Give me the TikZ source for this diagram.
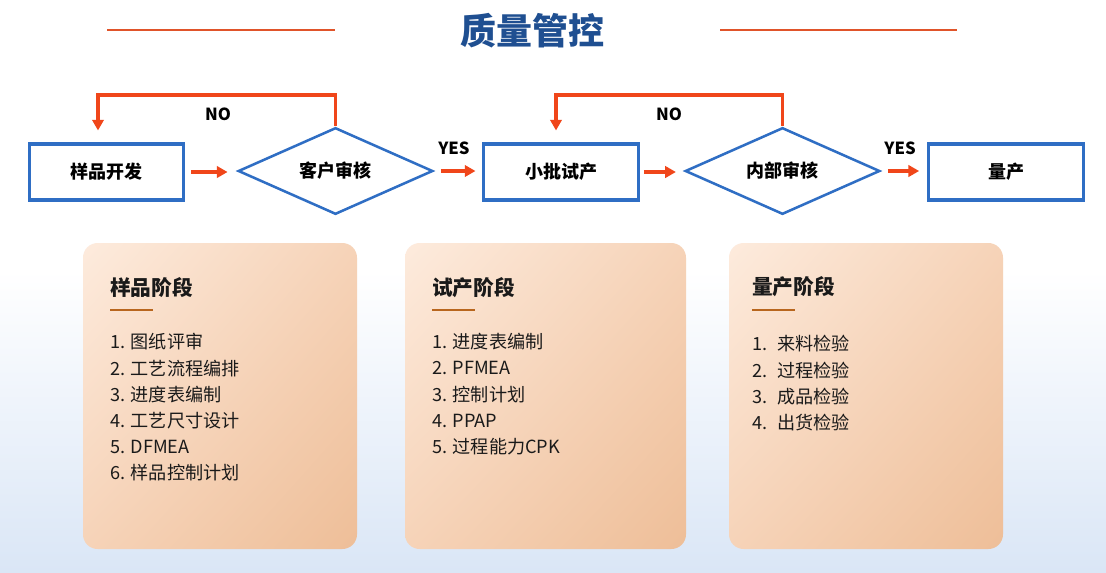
\documentclass[tikz,border=0pt]{standalone}
\usepackage{fontspec}
\setmainfont{Noto Sans CJK SC}
\usetikzlibrary{shapes.geometric,arrows.meta,shadings}
\definecolor{flowblue}{HTML}{2F6EC4}
\definecolor{arrowred}{HTML}{F0461A}
\definecolor{titleblue}{HTML}{1F4F91}
\definecolor{linered}{HTML}{E0542A}
\definecolor{ulbrown}{HTML}{B8661E}
\definecolor{bgblue}{HTML}{DAE6F6}
\definecolor{cardA}{HTML}{FDEBDD}
\definecolor{cardB}{HTML}{F6D3B8}
\definecolor{cardC}{HTML}{EEBE98}
\definecolor{txt}{HTML}{1A1A1A}
\tikzset{
  stepbox/.style={draw=flowblue, line width=2.3pt, minimum width=116pt, minimum height=42pt, inner sep=0pt, font=\bfseries\fontsize{13.5pt}{14pt}\selectfont, text=black},
  decide/.style={diamond, draw=flowblue, line width=1.9pt, aspect=2.24, minimum width=146pt, minimum height=65pt, inner sep=0pt, font=\bfseries\fontsize{13.5pt}{14pt}\selectfont, text=black},
  arr/.style={draw=arrowred, line width=2.6pt, -{Triangle[length=8pt,width=8.5pt]}},
  flowlab/.style={font=\bfseries\fontsize{12.5pt}{13pt}\selectfont, text=black, inner sep=0pt},
  card/.style={rounded corners=11pt, upper left=cardA, upper right=cardB, lower left=cardB, lower right=cardC},
  cardtitle/.style={anchor=west, inner sep=0pt, font=\bfseries\fontsize{15.5pt}{16pt}\selectfont, text=txt},
  item/.style={anchor=west, inner sep=0pt, font=\fontsize{13.6pt}{14pt}\selectfont, text=txt},
  ul/.style={draw=ulbrown, line width=2.2pt},
  deco/.style={draw=linered, line width=0.9pt}
}
\begin{document}
\begin{tikzpicture}[x=0.75pt,y=-0.75pt]
\useasboundingbox (0,0) rectangle (1106,572);
\fill[white] (0,0) rectangle (1106,572);
\shade[top color=white, bottom color=bgblue] (0,270) rectangle (1106,572);

% title
\node[font=\bfseries\fontsize{27pt}{28pt}\selectfont, text=titleblue, inner sep=0pt] (title) at (532,31) {质量管控};
\coordinate (l1a) at (107,30); \coordinate (l1b) at (335,30);
\coordinate (l2a) at (720,30); \coordinate (l2b) at (957,30);
\draw[deco] (l1a) -- (l1b);
\draw[deco] (l2a) -- (l2b);

% flow
\node[stepbox] (b1) at (106.5,172) {样品开发};
\node[decide]  (d1) at (335.5,171) {客户审核};
\node[stepbox] (b2) at (561,172) {小批试产};
\node[decide]  (d2) at (782.5,171) {内部审核};
\node[stepbox] (b3) at (1006,172) {量产};

\draw[arr, shorten <=4.5pt, shorten >=7pt] (b1.east) -- (b1.east -| d1.west);
\draw[arr, shorten <=5pt, shorten >=5pt] (d1.east) -- (d1.east -| b2.west);
\draw[arr, shorten <=3pt, shorten >=6pt] (b2.east) -- (b2.east -| d2.west);
\draw[arr, shorten <=5pt, shorten >=6pt] (d2.east) -- (d2.east -| b3.west);

\coordinate (n1) at (98,95);
\coordinate (n2) at (556,95);
\draw[arr, shorten >=9pt] (d1.north) |- (n1) -- (n1 |- b1.north);
\draw[arr, shorten >=9pt] (d2.north) |- (n2) -- (n2 |- b2.north);

\node[flowlab] (no1) at (218,114) {NO};
\node[flowlab] (no2) at (669,114) {NO};
\node[flowlab] (yes1) at (454,148) {YES};
\node[flowlab] (yes2) at (900,148) {YES};

% cards
\shade[card] (83,243) rectangle (357,549);
\shade[card] (405,243) rectangle (686,549);
\shade[card] (729,243) rectangle (1003,549);

\node[cardtitle] (t1) at (110,288) {样品阶段};
\node[cardtitle] (t2) at (432,288) {试产阶段};
\node[cardtitle] (t3) at (752,287) {量产阶段};
\draw[ul] (110,310) -- (153,310);
\draw[ul] (432,310) -- (475,310);
\draw[ul] (752,310) -- (795,310);

\foreach \t [count=\i] in {1. 图纸评审, 2. 工艺流程编排, 3. 进度表编制, 4. 工艺尺寸设计, 5. DFMEA, 6. 样品控制计划}
  \node[item] (pa\i) at (110,{342+26.2*(\i-1)}) {\t};
\foreach \t [count=\i] in {1. 进度表编制, 2. PFMEA, 3. 控制计划, 4. PPAP, 5. 过程能力CPK}
  \node[item] (pb\i) at (432,{342+26.2*(\i-1)}) {\t};
\foreach \t [count=\i] in {来料检验, 过程检验, 成品检验, 出货检验}
  \node[item] (pc\i) at (752,{344+26.2*(\i-1)}) {\i.\hspace{0.55em}\t};
\end{tikzpicture}
\end{document}
